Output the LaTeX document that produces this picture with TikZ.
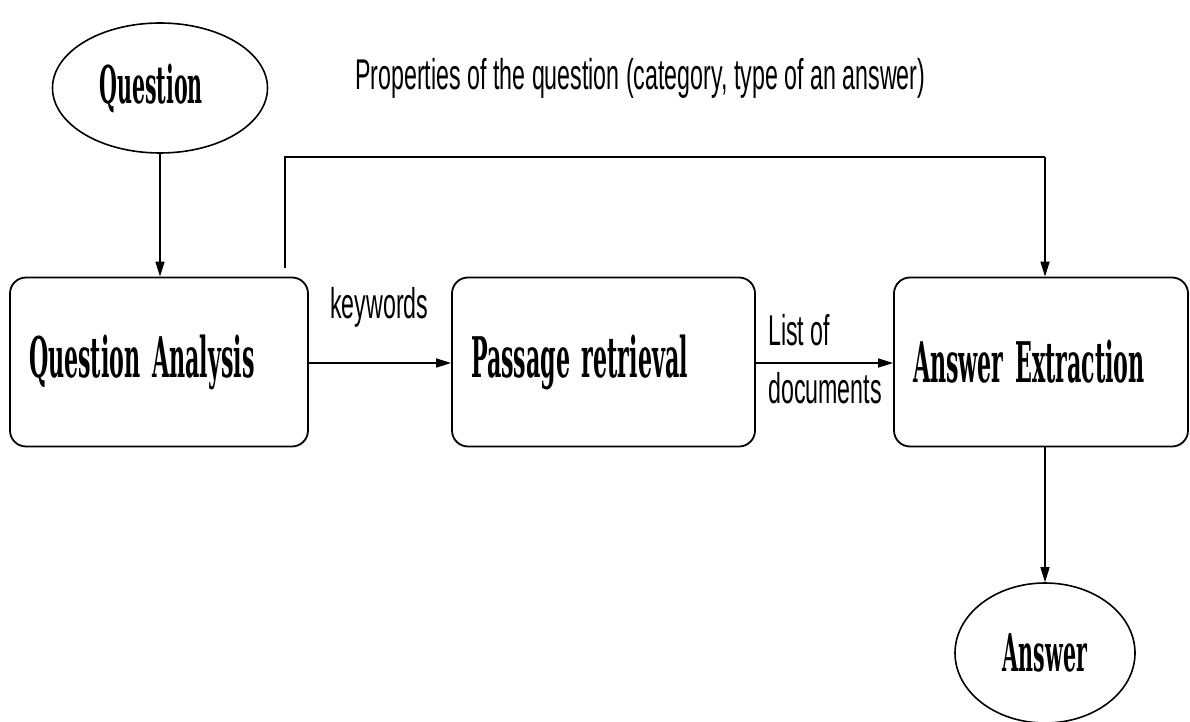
\documentclass[tikz,border=0pt]{standalone}
\usepackage{fontspec}
\usetikzlibrary{arrows.meta,shapes.geometric}
\newfontfamily\boxfont[FakeStretch=0.44]{DejaVu Serif Condensed Bold}
\newfontfamily\labfont[FakeStretch=0.54]{Liberation Sans}
\newcommand\procfont{\boxfont\fontsize{56}{64}\selectfont}
\newcommand\tightsp{ \hspace{-7pt}}
\begin{document}
\begin{tikzpicture}[x=1pt,y=1pt,
  proc/.style={draw,line width=1.8pt,rounded corners=16pt,minimum height=169pt,
    inner xsep=19pt,align=left,font=\procfont},
  term/.style={draw,ellipse,line width=1.6pt,inner sep=0pt,font=\boxfont\fontsize{52}{60}\selectfont},
  lab/.style={font=\labfont\fontsize{43}{50}\selectfont,inner sep=0pt},
  conn/.style={line width=1.5pt,-{Triangle[length=15pt,width=9pt]}}]
\useasboundingbox (0,0) rectangle (1190,-722);
\node[term,minimum width=215pt,minimum height=130pt] (q) at (160,-88) {Question\hspace*{18pt}};
\node[proc,minimum width=298pt,text width=260pt] (qa) at (159,-362) {Question\tightsp Analysis};
\node[proc,minimum width=303pt,text width=265pt] (pr) at (603.5,-362) {Passage\tightsp retrieval};
\node[proc,minimum width=294pt,text width=256pt] (ae) at (1041,-362) {Answer\tightsp Extraction};
\node[term,minimum width=180pt,minimum height=140pt] (a) at (1045,-653) {Answer};
\coordinate (s) at (285,-268);
\coordinate (c1) at (285,-157);
\coordinate (c2) at (1045,-157);
\draw[conn] (q.south) -- (q.south |- qa.north);
\draw[conn] (qa.east |- 0,-363) -- (pr.west |- 0,-363);
\draw[conn] (pr.east |- 0,-363) -- (ae.west |- 0,-363);
\draw[line width=1.8pt] (s) -- (c1) -- (c2);
\draw[conn] (c2) -- (c2 |- ae.north);
\draw[conn] (ae.south -| a.north) -- (a.north);
\node[lab,anchor=base west] (pl) at (355,-90) {Properties of the question (category, type of an answer)};
\node[lab,anchor=base west] (kw) at (330,-318) {keywords};
\node[lab,anchor=base west] (l1) at (768,-345) {List of};
\node[lab,anchor=base west] (l2) at (768,-403) {documents};
\end{tikzpicture}
\end{document}
